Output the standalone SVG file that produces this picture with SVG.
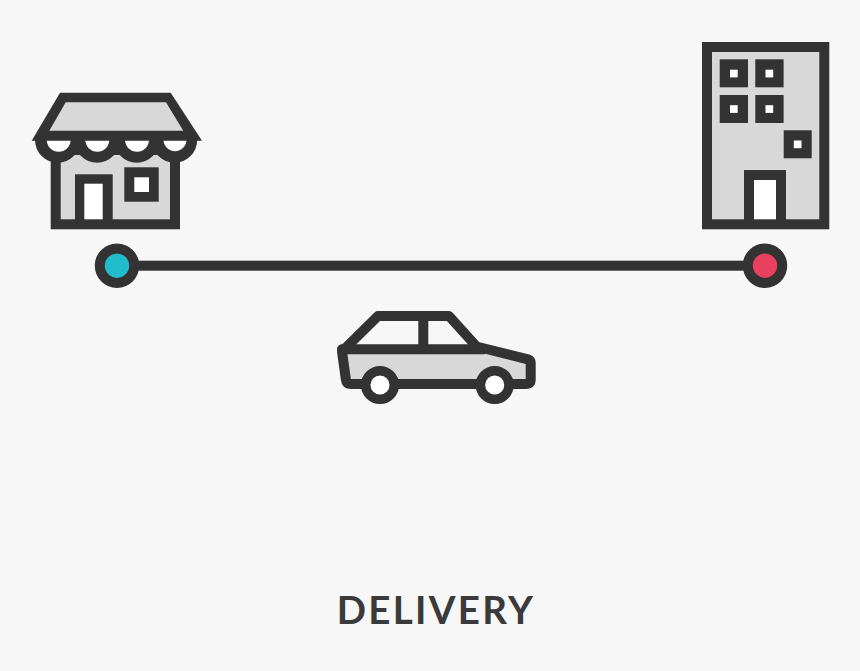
<svg xmlns="http://www.w3.org/2000/svg" width="860" height="671" viewBox="0 0 860 671">
<style>
.d{fill:#333}.g{fill:#d8d8d8}.w{fill:#fff}
.s{fill:#d8d8d8;stroke:#333;stroke-width:10}
.l{fill:none;stroke:#333;stroke-width:10;stroke-linejoin:round;stroke-linecap:round}
.t{font-family:Lato,"Liberation Sans",sans-serif;font-weight:700;font-size:38.5px;letter-spacing:2.3px;fill:#3a3a3a}
</style>
<defs><clipPath id="below"><rect x="0" y="140" width="860" height="40"/></clipPath></defs>
<rect width="860" height="671" fill="#f7f7f7"/>
<g id="connectors"><rect class="d" x="117" y="260.7" width="648" height="10"/></g>
<g id="shop">
<rect class="s" x="55.7" y="150" width="119.3" height="74.3"/>
<polygon class="d" points="60,92.7 170.7,92.7 202,140.7 31.7,140.7"/>
<polygon class="g" points="65.7,102.3 166,102.3 183.3,130.7 49.3,130.7"/>
<g clip-path="url(#below)">
<circle class="d" cx="57.7" cy="140" r="22.7"/><circle class="d" cx="97" cy="140" r="22.7"/><circle class="d" cx="136.7" cy="140" r="22.7"/><circle class="d" cx="174.5" cy="140" r="22.7"/>
</g>
<g clip-path="url(#below)" transform="translate(0,.7)">
<circle class="w" cx="58.7" cy="139" r="12"/><circle class="w" cx="97.3" cy="139" r="12"/><circle class="w" cx="137" cy="139" r="12"/><circle class="w" cx="175" cy="139" r="11.5"/>
</g>
<rect class="d" x="75" y="174.3" width="37.7" height="50"/><rect class="w" x="84.3" y="183.7" width="18.4" height="35.6"/>
<rect class="d" x="124.3" y="167.3" width="34.4" height="34.4"/><rect class="w" x="134.3" y="177.3" width="14.7" height="14.7"/>
</g>
<g id="building">
<rect class="s" x="707" y="47" width="117.3" height="177.3"/>
<rect class="d" x="719.7" y="59.3" width="28.3" height="28"/><rect class="w" x="730" y="69.7" width="7.7" height="7.7"/>
<rect class="d" x="755.3" y="59.3" width="28.3" height="28"/><rect class="w" x="765.5" y="69.7" width="7.7" height="7.7"/>
<rect class="d" x="719.7" y="95" width="28.3" height="28"/><rect class="w" x="730" y="105.2" width="7.7" height="7.7"/>
<rect class="d" x="755.3" y="95" width="28.3" height="28"/><rect class="w" x="765.5" y="105.2" width="7.7" height="7.7"/>
<rect class="d" x="783.7" y="130.3" width="28" height="28"/><rect class="w" x="793.8" y="140.5" width="7.7" height="7.7"/>
<rect class="d" x="744" y="170" width="42" height="54"/><rect class="w" x="754" y="180" width="22" height="39.3"/>
</g>
<g id="origin"><circle cx="117" cy="265.7" r="17.2" fill="#22bbcc" stroke="#333" stroke-width="10"/></g>
<g id="destination"><circle cx="765" cy="265.7" r="17.2" fill="#e8405f" stroke="#333" stroke-width="10"/></g>
<g id="car">
<path class="g" d="M342,349.3H484L530.7,360V384H345.5Z"/>
<path class="l" d="M342,351.5L378,316H449L476.5,346.5L528,359.3Q530.7,360 530.7,363V380Q530.7,384 526.7,384H351Q346.3,384 345.8,379Z"/>
<path class="l" d="M342,349.3H484M423.3,316V349.3"/>
<circle class="w" cx="380" cy="385" r="14.3" stroke="#333" stroke-width="9.5"/>
<circle class="w" cx="494.7" cy="385" r="14.3" stroke="#333" stroke-width="9.5"/>
</g>
<text id="label" class="t" x="336.7" y="624.3">DELIVERY</text>
</svg>
